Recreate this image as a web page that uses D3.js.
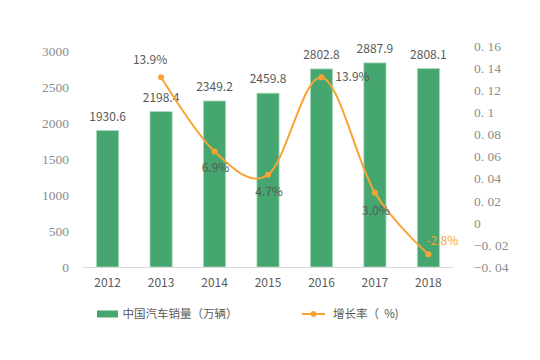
<!DOCTYPE html>
<html><head><meta charset="utf-8">
<script src="https://cdn.jsdelivr.net/npm/d3@7"></script>
<style>
html,body{margin:0;padding:0;background:#fff;}
svg{display:block;}
</style>
</head><body>
<svg id="chart" width="540" height="360"></svg>
<script>
// ---- data ----
const years = ["2012","2013","2014","2015","2016","2017","2018"];
const sales = [1930.6, 2198.4, 2349.2, 2459.8, 2802.8, 2887.9, 2808.1];
const growthYears = ["2013","2014","2015","2016","2017","2018"];
const growth = [0.139, 0.069, 0.047, 0.139, 0.030, -0.028];
const growthLabels = ["13.9%","6.9%","4.7%","13.9%","3.0%","-2.8%"];
const leftTicks = [0, 500, 1000, 1500, 2000, 2500, 3000];
const rightTicks = [-0.04, -0.02, 0, 0.02, 0.04, 0.06, 0.08, 0.1, 0.12, 0.14, 0.16];
const rightTickLabels = ["\u22120. 04","\u22120. 02","0","0. 02","0. 04","0. 06","0. 08","0. 1","0. 12","0. 14","0. 16"];
const legendBar = "中国汽车销量（万辆）";
const legendLine = "增长率（\u00a0\u00a0%)";

// ---- layout ----
const svg = d3.select("#chart");
const green = "#45A66F", orange = "#FAA333", textCol = "#595959", axisText = "#8c8c8c";
const sansFont = "'Noto Sans CJK SC','Noto Sans',sans-serif";
const serifFont = "'Liberation Serif','DejaVu Serif',serif";

const x = d3.scaleBand().domain(years).range([81, 455]).paddingInner(0.585).paddingOuter(0.29);
const yL = d3.scaleLinear().domain([0, 3000]).range([267, 55]);
const yR = d3.scaleLinear().domain([-0.04, 0.16]).range([267, 55]);
// axis label placement scales (labels in reference are spread slightly wider)
const yLAxis = d3.scaleLinear().domain([0, 3000]).range([267, 51]);
const yRAxis = d3.scaleLinear().domain([-0.04, 0.16]).range([267, 46]);
const cx = d => x(d) + x.bandwidth() / 2;

// left axis
const gL = svg.append("g").attr("transform", "translate(69,0)")
  .call(d3.axisLeft(yLAxis).tickValues(leftTicks).tickSize(0).tickPadding(0).tickFormat(d3.format("d")));
gL.select(".domain").remove();
gL.selectAll("text").attr("font-family", serifFont).attr("font-size", 13.5).attr("fill", axisText);

// right axis
const gR = svg.append("g").attr("transform", "translate(474,0)")
  .call(d3.axisRight(yRAxis).tickValues(rightTicks).tickSize(0).tickPadding(0)
    .tickFormat((d, i) => rightTickLabels[i]));
gR.select(".domain").remove();
gR.selectAll("text").attr("font-family", serifFont).attr("font-size", 13.5).attr("fill", axisText);

// bars
svg.append("g").selectAll("rect").data(years).join("rect")
  .attr("x", d => x(d)).attr("width", x.bandwidth())
  .attr("y", (d, i) => yL(sales[i])).attr("height", (d, i) => yL(0) - yL(sales[i]))
  .attr("fill", green).attr("stroke", "#a9dabd").attr("stroke-width", 0.8);

// x axis
const gX = svg.append("g").attr("transform", "translate(0,267)")
  .call(d3.axisBottom(x).tickSize(0).tickPadding(11));
gX.select(".domain").attr("stroke", "#d9d9d9").attr("d", "M83,0.5H453");
gX.selectAll("text").attr("font-family", sansFont).attr("font-size", 12).attr("fill", textCol);

// bar labels
svg.append("g").selectAll("text").data(years).join("text")
  .attr("x", d => cx(d)).attr("y", (d, i) => yL(sales[i]) - 14)
  .attr("dy", "0.35em").attr("text-anchor", "middle")
  .attr("font-family", sansFont).attr("font-size", 12).attr("fill", textCol)
  .text((d, i) => sales[i].toFixed(1));

// growth line
const pts = growthYears.map((y, i) => [cx(y), yR(growth[i])]);
svg.append("path").datum(pts)
  .attr("d", d3.line().curve(d3.curveCardinal.tension(0)))
  .attr("fill", "none").attr("stroke", orange).attr("stroke-width", 2);
svg.append("g").selectAll("circle").data(pts).join("circle")
  .attr("cx", d => d[0]).attr("cy", d => d[1]).attr("r", 3).attr("fill", orange);

// growth labels
const labelOffsets = [[-11,-17],[1,16],[1,17],[31,0],[1,17.5],[14,-13]];
svg.append("g").selectAll("text").data(pts).join("text")
  .attr("x", (d, i) => d[0] + labelOffsets[i][0]).attr("y", (d, i) => d[1] + labelOffsets[i][1])
  .attr("dy", "0.35em").attr("text-anchor", "middle")
  .attr("font-family", sansFont).attr("font-size", 12)
  .attr("fill", (d, i) => growth[i] < 0 ? orange : textCol)
  .text((d, i) => growthLabels[i]);

// legend
const lg = svg.append("g");
lg.append("rect").attr("x", 97).attr("y", 310.5).attr("width", 21).attr("height", 7).attr("fill", green);
lg.append("text").attr("x", 122.5).attr("y", 314).attr("dy", "0.35em")
  .attr("font-family", sansFont).attr("font-size", 11.5).attr("fill", textCol).text(legendBar);
lg.append("line").attr("x1", 302).attr("x2", 325).attr("y1", 314).attr("y2", 314)
  .attr("stroke", orange).attr("stroke-width", 2);
lg.append("circle").attr("cx", 313.5).attr("cy", 314).attr("r", 3).attr("fill", orange);
lg.append("text").attr("x", 333).attr("y", 314).attr("dy", "0.35em")
  .attr("font-family", sansFont).attr("font-size", 11.5).attr("fill", textCol).text(legendLine);
</script>
</body></html>
